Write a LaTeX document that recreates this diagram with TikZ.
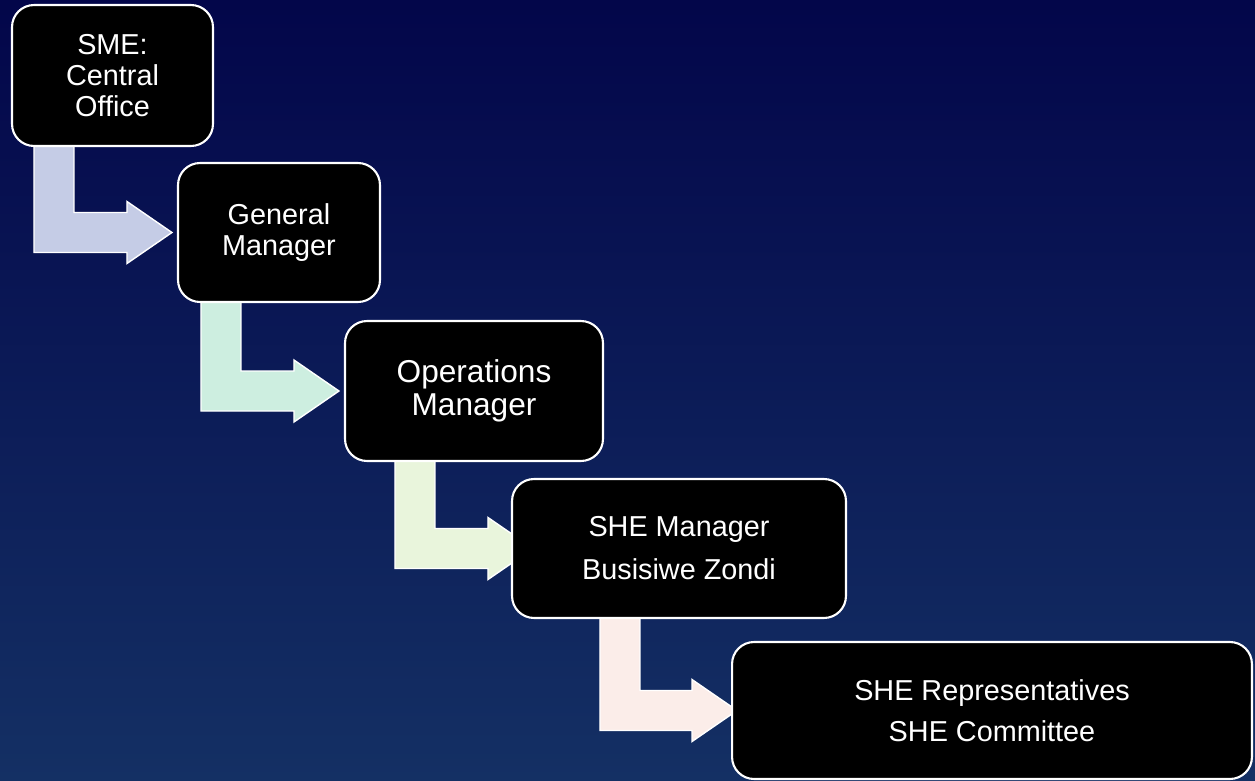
\documentclass[tikz,border=0pt]{standalone}
\usepackage{fontspec}
\setmainfont{Liberation Sans}
\usetikzlibrary{calc}
\definecolor{skytop}{HTML}{03064A}
\definecolor{skybottom}{HTML}{143064}
\definecolor{arrowA}{HTML}{C5CCE6}
\definecolor{arrowB}{HTML}{CDEEE0}
\definecolor{arrowC}{HTML}{E9F5DC}
\definecolor{arrowD}{HTML}{FBEDE9}
\pgfdeclarelayer{back}
\pgfdeclarelayer{arrows}
\pgfsetlayers{back,arrows,main}
% bent block arrow: from, to, stem offset, head offset, fill
\newcommand{\levelarrow}[5]{%
  \filldraw[fill=#5, draw=white, line width=0.8pt]
    ($(#1.south west)+(#3,-6)$) -- ++(40,0)
    |- ($(#2.west)+(#4,-20)$) -- ++(0,-11)
    -- ($(#2.west)+(#4+45,0)$)
    -- ($(#2.west)+(#4,31)$) -- ++(0,-11)
    -| ($(#1.south west)+(#3,-6)$) -- cycle;}

\begin{document}
\begin{tikzpicture}[x=0.02cm, y=-0.02cm,
    every node/.style={align=center, text=white},
    level/.style={draw=white, line width=1.2pt, fill=black, rounded corners=0.44cm,
        inner sep=0pt, font=\fontsize{16.4}{17.5}\selectfont}]
  \begin{pgfonlayer}{back}
    \shade[top color=skytop, bottom color=skybottom] (0,0) rectangle (1255,781);
  \end{pgfonlayer}
  \useasboundingbox (0,0) rectangle (1255,781);

  \node[level, minimum width=4.02cm, minimum height=2.82cm] (A) at (112.5,75.5) {SME:\\Central\\Office};
  \node[level, minimum width=4.04cm, minimum height=2.78cm] (B) at (279,232.5) {General\\Manager};
  \node[level, minimum width=5.16cm, minimum height=2.80cm, font=\fontsize{18}{18.8}\selectfont] (C) at (474,391) {Operations\\Manager};
  \node[level, minimum width=6.68cm, minimum height=2.78cm] (D) at (679,548.5) {SHE Manager\\[7pt]Busisiwe Zondi};
  \node[level, minimum width=10.4cm, minimum height=2.74cm] (E) at (992,710.5) {SHE Representatives\\[6pt]SHE Committee};

  \begin{pgfonlayer}{arrows}
    \levelarrow{A}{B}{23}{-50}{arrowA}
    \levelarrow{B}{C}{24}{-50}{arrowB}
    \levelarrow{C}{D}{51}{-23}{arrowC}
    \levelarrow{D}{E}{89}{-39}{arrowD}
  \end{pgfonlayer}
\end{tikzpicture}
\end{document}
